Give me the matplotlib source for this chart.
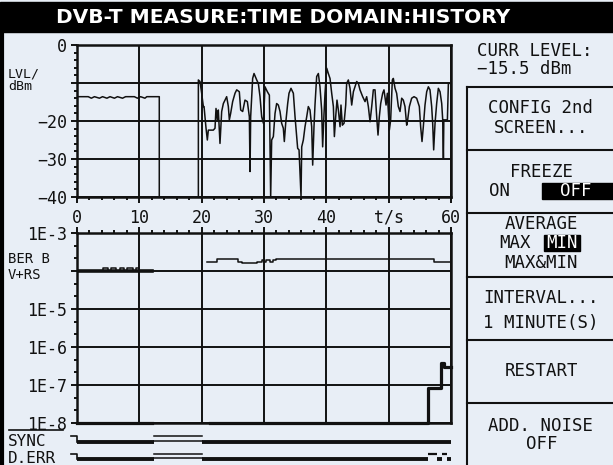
import numpy as np
import matplotlib
matplotlib.use("Agg")
import matplotlib.pyplot as plt
from matplotlib.patches import Rectangle
from matplotlib.ticker import NullFormatter

W, H = 613, 465
BG = "#e8eef6"
INK = "#111111"
MONO = "DejaVu Sans Mono"

# level history, dBm over the last 60 s
lvl_t = [0, 1.8, 2.3, 2.8, 3.6, 4.1, 4.8, 5.3, 6.0, 6.5, 7.3, 7.8, 9.2, 9.7, 10.2, 10.9, 11.2,
         13.2, 13.2, 19.47, 19.47, 19.73, 20.0, 20.27, 20.38, 20.70, 20.91, 21.07, 21.87, 22.14,
         22.30, 22.51, 22.67, 22.94, 23.21, 23.48, 23.74, 24.01, 24.28, 24.44, 24.65, 24.97,
         25.35, 25.62, 26.04, 26.26, 26.58, 26.95, 27.33, 27.65, 27.76, 27.86, 28.18, 28.40,
         28.83, 29.09, 29.36, 29.63, 29.90, 30.16, 30.54, 30.86, 31.07, 31.23, 31.50, 31.77,
         32.03, 32.30, 32.57, 32.83, 33.10, 33.26, 33.48, 33.80, 34.01, 34.33, 34.71, 34.98,
         35.24, 35.40, 35.62, 35.94, 36.05, 36.31, 36.58, 36.85, 37.11, 37.38, 37.65, 37.81,
         38.02, 38.18, 38.45, 38.72, 38.98, 39.25, 39.41, 39.63, 39.79, 40.06, 40.32, 40.59,
         40.86, 41.13, 41.29, 41.50, 41.71, 41.93, 42.20, 42.35, 42.57, 42.84, 43.11, 43.26,
         43.53, 43.80, 44.07, 44.34, 44.60, 44.87, 45.14, 45.40, 45.83, 46.21, 46.47, 46.74,
         47.01, 47.28, 47.54, 47.81, 48.08, 48.29, 48.50, 48.72, 49.04, 49.25, 49.58, 49.79,
         50.11, 50.32, 50.59, 50.75, 51.02, 51.28, 51.55, 51.82, 52.09, 52.35, 52.62, 52.89,
         53.05, 53.32, 53.69, 54.07, 54.49, 54.92, 55.13, 55.35, 55.56, 55.83, 56.10, 56.37,
         56.63, 56.90, 57.06, 57.22, 57.44, 57.70, 57.97, 58.24, 58.51, 58.67, 58.78, 58.85,
         59.42, 59.58, 59.95]
lvl_dbm = [-13.6, -13.6, -14.0, -13.6, -14.0, -13.6, -14.0, -13.6, -14.0, -13.6, -14.0, -13.6,
           -13.6, -14.0, -13.6, -14.0, -13.6,
           -13.6, -40.0, -40.0, -9.2, -9.6, -12.7, -16.2, -16.2, -21.9, -25.0, -22.4, -22.4, -21.9,
           -16.7, -19.7, -17.1, -25.9, -17.5, -15.4, -14.5, -13.6, -16.2, -19.7, -18.0, -14.9,
           -12.7, -11.8, -12.3, -17.1, -17.5, -14.5, -14.9, -18.9, -33.3, -18.9, -8.8, -7.5,
           -9.2, -10.1, -13.6, -18.9, -20.6, -11.0, -12.3, -13.2, -40.0, -25.0, -24.1, -18.0,
           -15.4, -15.8, -17.5, -20.6, -21.9, -25.4, -20.6, -15.4, -12.7, -11.4, -12.7, -18.9,
           -24.1, -27.2, -27.6, -39.9, -26.8, -25.0, -21.5, -18.9, -16.2, -17.1, -21.5, -31.6,
           -21.5, -15.8, -8.3, -7.5, -11.0, -17.1, -26.8, -18.0, -12.7, -6.1, -7.5, -8.8,
           -12.7, -16.2, -24.1, -18.9, -14.5, -17.1, -21.5, -15.8, -21.1, -20.6, -15.8, -10.1,
           -9.2, -11.4, -15.8, -12.3, -11.0, -9.6, -10.1, -11.8, -13.6, -14.9, -13.6, -16.2,
           -20.2, -16.2, -11.8, -11.8, -18.9, -23.7, -18.9, -15.4, -12.7, -11.8, -15.8, -12.7,
           -22.4, -19.7, -9.2, -8.8, -11.4, -12.7, -16.2, -17.5, -14.0, -14.5, -16.2, -21.1,
           -19.7, -16.2, -14.0, -13.6, -14.0, -16.2, -21.5, -25.4, -21.5, -15.8, -12.3, -11.0,
           -11.8, -16.2, -20.6, -27.6, -20.6, -15.4, -11.4, -12.3, -15.4, -19.7, -29.8, -19.7,
           -19.7, -10.1, -10.1]

lvl_yticks = [0, -10, -20, -30, -40]
lvl_ylabels = ["0", "", "\u221220", "\u221230", "\u221240"]
t_ticks = [0, 10, 20, 30, 40, 50, 60]
t_labels = ["0", "10", "20", "30", "40", "t/s", "60"]

# BER before Viterbi (thin trace, steps), its 1E-4 floor over the first interval,
# and BER before RS (thick trace); NaN = no measurement
bv_t = [0, 4.1, 5.0, 5.5, 6.3, 6.9, 7.6, 8.1, 9.0, 9.5, 10.0, 12.0, np.nan,
        20.8, 22.4, 25.9, 26.4, 28.8, 29.6, 30.0, 30.4, 31.0, 31.5, 32.0, 57.2, 60.0]
bv = [1.0e-4, 1.2e-4, 1.0e-4, 1.2e-4, 1.0e-4, 1.2e-4, 1.0e-4, 1.2e-4, 1.0e-4, 1.2e-4, 1.0e-4,
      1.0e-4, np.nan,
      1.76e-4, 2.03e-4, 1.76e-4, 1.6e-4, 1.76e-4, 1.95e-4, 1.76e-4, 1.95e-4, 1.76e-4, 1.95e-4,
      2.03e-4, 1.76e-4, 1.76e-4]
bv_floor_t = [0, 12.0]
bv_floor = [1e-4, 1e-4]
rs_t = [0, 12.0, np.nan, 21.3, 56.3, 58.4, 58.8, 60.0]
rs = [1e-8, 1e-8, np.nan, 1e-8, 8.3e-8, 3.8e-7, 3.0e-7, 3.0e-7]

ber_ticks = [1e-3, 1e-4, 1e-5, 1e-6, 1e-7, 1e-8]
ber_labels = ["1E-3", "", "1E-5", "1E-6", "1E-7", "1E-8"]

# digital flags: lo = ok, hi = set, x = unknown (both levels drawn)
sync_segs = [(0, 12.3, "lo"), (12.3, 20.1, "x"), (20.1, 60, "lo")]
derr_segs = [(0, 12.3, "lo"), (12.3, 20.1, "x"), (20.1, 56.3, "lo"), (56.3, 57.8, "hi"),
             (57.8, 58.5, "lo"), (58.5, 59.3, "hi"), (59.3, 60, "lo")]

title = "DVB-T MEASURE:TIME DOMAIN:HISTORY"


def px(x0, y0, w, h):
    return [x0 / W, 1 - (y0 + h) / H, w / W, h / H]


fig = plt.figure(figsize=(W / 100, H / 100), dpi=100, facecolor=BG)

# screen layer in pixel coordinates: frame, title bar, soft-key menu, labels
scr = fig.add_axes([0, 0, 1, 1], zorder=0)
scr.set_xlim(0, W); scr.set_ylim(H, 0); scr.axis("off")
scr.add_patch(Rectangle((0, 2), W, 30, color="black"))
scr.plot([1.5, 1.5], [32, H], color="black", lw=3)
scr.text(283, 17.5, title, color="white", fontsize=14.5, family="DejaVu Sans",
         weight="bold", ha="center", va="center")

scr.plot([467, 467], [87, H], color=INK, lw=1.5)
for y in [87, 150, 213, 277, 340, 403]:
    scr.plot([467, W], [y, y], color=INK, lw=1.5)
kw = dict(family=MONO, fontsize=12.5, color=INK, va="center")
scr.text(477, 51, "CURR LEVEL:", ha="left", **kw)
scr.text(477, 69, "\u221215.5 dBm", ha="left", **kw)
scr.text(541, 108, "CONFIG 2nd", ha="center", **kw)
scr.text(541, 128, "SCREEN...", ha="center", **kw)
scr.text(542, 172, "FREEZE", ha="center", **kw)
scr.text(489, 191, "ON", ha="left", **kw)
scr.add_patch(Rectangle((542, 183), W - 542, 16, color="black"))
scr.text(576, 191, "OFF", ha="center", **dict(kw, color="white"))
scr.text(541, 224, "AVERAGE", ha="center", **kw)
scr.text(499, 243, "MAX", ha="left", **kw)
scr.add_patch(Rectangle((544, 235), 36, 16, color="black"))
scr.text(562, 243, "MIN", ha="center", **dict(kw, color="white"))
scr.text(541, 263, "MAX&MIN", ha="center", **kw)
scr.text(541, 298, "INTERVAL...", ha="center", **kw)
scr.text(541, 323, "1 MINUTE(S)", ha="center", **kw)
scr.text(541, 371, "RESTART", ha="center", **kw)
scr.text(541, 426, "ADD. NOISE", ha="center", **kw)
scr.text(542, 444, "OFF", ha="center", **kw)

small = dict(family=MONO, fontsize=9.5, color=INK, va="center", ha="left")
scr.text(8, 74, "LVL/", **small)
scr.text(8, 87, "dBm", **small)
scr.text(8, 259, "BER B", **dict(small, fontsize=10))
scr.text(8, 275, "V+RS", **dict(small, fontsize=10))
scr.text(8, 441, "SYNC", **dict(small, fontsize=11.5))
scr.plot([9, 63], [430, 430], color=INK, lw=1.2)
scr.text(8, 458, "D.ERR", **dict(small, fontsize=11.5))

tick_kw = dict(labelsize=12, labelfontfamily=MONO, colors=INK)

# level history
ax1 = fig.add_axes(px(77, 45, 374, 152), zorder=2)
ax1.set_facecolor(BG)
ax1.plot(lvl_t, lvl_dbm, color=INK, lw=1.1)
ax1.set_xlim(0, 60); ax1.set_ylim(-40, 0)
ax1.set_yticks(lvl_yticks); ax1.set_yticklabels(lvl_ylabels)
ax1.set_yticks(np.arange(-40, 1, 2), minor=True)
ax1.set_xticks(t_ticks); ax1.set_xticklabels(t_labels)
ax1.set_xticks(np.arange(0, 61, 2), minor=True)
ax1.grid(True, which="major", color=INK, lw=1.4)
ax1.tick_params(which="major", direction="out", length=4, width=1.4, **tick_kw)
ax1.tick_params(axis="x", which="major", pad=4.5)
ax1.tick_params(axis="y", which="major", pad=3)
ax1.tick_params(which="minor", direction="out", length=2, width=1.4, color=INK)
for sp in ax1.spines.values():
    sp.set_linewidth(1.8); sp.set_color(INK)

# BER history
ax2 = fig.add_axes(px(77, 233, 374, 190), zorder=2)
ax2.set_facecolor(BG)
ax2.set_yscale("log")
ax2.plot(bv_t, bv, color=INK, lw=1.1, drawstyle="steps-post")
ax2.plot(bv_floor_t, bv_floor, color=INK, lw=2.6)
ax2.plot(rs_t, rs, color=INK, lw=2.3, drawstyle="steps-post", clip_on=False)
ax2.set_xlim(0, 60); ax2.set_ylim(1e-8, 1e-3)
ax2.set_yticks(ber_ticks); ax2.set_yticklabels(ber_labels)
ax2.set_yticks([10.0 ** (-8 + k / 3) for k in range(16) if k % 3], minor=True)
ax2.yaxis.set_minor_formatter(NullFormatter())
ax2.set_xticks(t_ticks)
ax2.set_xticks(np.arange(0, 61, 2), minor=True)
ax2.xaxis.tick_top()
ax2.tick_params(axis="x", labeltop=False)
ax2.grid(True, which="major", color=INK, lw=1.4)
ax2.tick_params(which="major", direction="out", length=4, width=1.4, **tick_kw)
ax2.tick_params(axis="y", which="major", pad=3)
ax2.tick_params(which="minor", direction="out", length=2, width=1.4, color=INK)
for sp in ax2.spines.values():
    sp.set_linewidth(1.8); sp.set_color(INK)

# SYNC / D.ERR flag rows
ax3 = fig.add_axes(px(77, 428, 374, 37), zorder=2)
ax3.set_xlim(0, 60); ax3.set_ylim(-1.09, 5.64)
ax3.axis("off")
for base, segs in [(3.1, sync_segs), (0.0, derr_segs)]:
    ax3.plot([-0.9, 0, 0], [base + 1, base + 1, base], color=INK, lw=1.2, clip_on=False)
    for t0, t1, state in segs:
        if state == "lo":
            ax3.plot([t0, t1], [base, base], color=INK, lw=2.8, solid_capstyle="butt")
        elif state == "hi":
            ax3.plot([t0, t1], [base + 1, base + 1], color=INK, lw=1.6, solid_capstyle="butt")
        else:
            ax3.plot([t0, t1], [base + 1, base + 1], color=INK, lw=1.1)
            ax3.plot([t0, t1], [base + 0.1, base + 0.1], color=INK, lw=1.1)

fig.savefig("out.png", dpi=100, facecolor=BG)
